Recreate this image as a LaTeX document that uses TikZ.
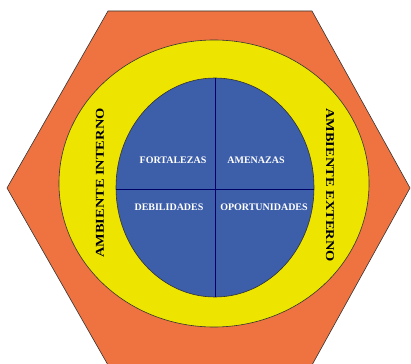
\documentclass[tikz,border=0pt]{standalone}
\usepackage{fontspec}
\setmainfont{Liberation Serif}
\definecolor{hexorange}{HTML}{EE7340}
\definecolor{ringyellow}{HTML}{EDE500}
\definecolor{coreblue}{HTML}{3D5EA9}
\tikzset{
  quadtext/.style={text=white, font=\bfseries\fontsize{10}{10}\selectfont, inner sep=0pt},
  ambtext/.style={text=black, font=\bfseries\fontsize{12}{12}\selectfont, inner sep=0pt},
}
\begin{document}
\begin{tikzpicture}[x=1pt,y=-1pt]
\useasboundingbox (0,0) rectangle (411,363);
\fill[white] (0,0) rectangle (411,363);
\draw[fill=hexorange, draw=black!80, line width=0.6pt]
  (108,11) -- (312,11) -- (410,188) -- (312,365) -- (108,365) -- (7,188) -- cycle;
\draw[fill=ringyellow, draw=black!80, line width=0.6pt] (214,183.5) ellipse [x radius=155, y radius=143.5];
\draw[fill=coreblue, draw=black!80, line width=0.6pt] (215,187.5) ellipse [x radius=99, y radius=109.5];
\coordinate (ctop) at (215,78);
\coordinate (cbot) at (215,297);
\coordinate (cleft) at (116,189);
\coordinate (cright) at (314,189);
\draw[draw=black!60!blue, line width=0.6pt] (ctop) -- (cbot);
\draw[draw=black!60!blue, line width=0.6pt] (cleft) -- (cright);
\node[quadtext] (fo) at (173,160) {FORTALEZAS};
\node[quadtext] (am) at (256,160) {AMENAZAS};
\node[quadtext] (de) at (169,207) {DEBILIDADES};
\node[quadtext] (op) at (264,207) {OPORTUNIDADES};
\node[ambtext, rotate=90] (ai) at (100,183) {\scalebox{1.2}[1]{AMBIENTE INTERNO}};
\node[ambtext, rotate=-90] (ae) at (330,185) {\scalebox{1.2}[1]{AMBIENTE EXTERNO}};
\end{tikzpicture}
\end{document}
